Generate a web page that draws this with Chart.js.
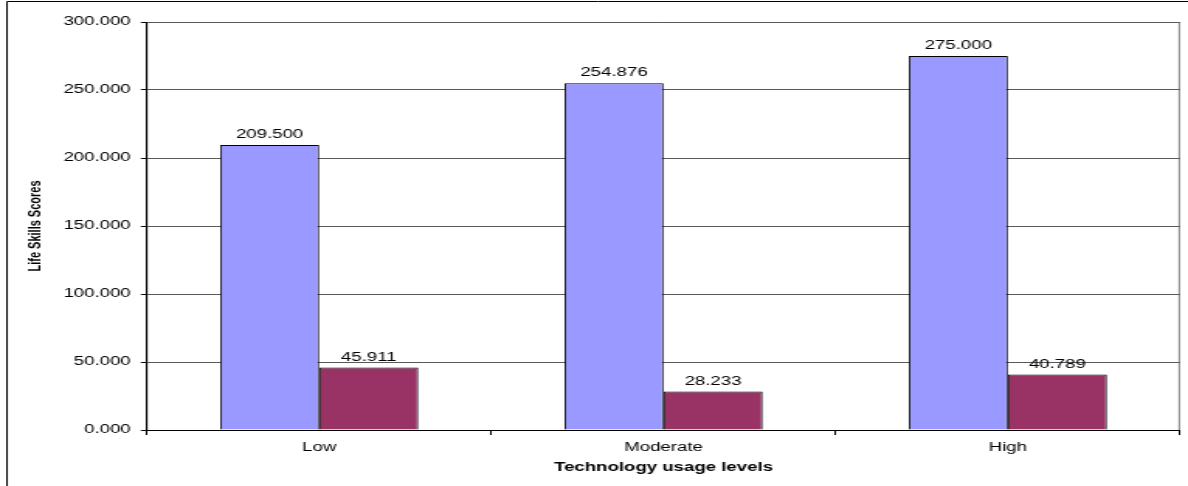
<!DOCTYPE html>
<html>
<head>
<meta charset="utf-8">
<title>Life Skills Scores by Technology usage levels</title>
<script src="https://cdn.jsdelivr.net/npm/chart.js@4.4.1/dist/chart.umd.min.js"></script>
<style>
  html, body { margin: 0; padding: 0; background: #fff; }
  #wrap { width: 1188px; height: 486px; overflow: hidden; }
</style>
</head>
<body>
<div id="wrap">
  <!-- the source picture is stretched sideways, so the canvas is drawn narrow and widened by css -->
  <canvas id="chart" width="766" height="486" style="width:1188px;height:486px;display:block"></canvas>
</div>
<script>
const levels = ["Low", "Moderate", "High"];
const meanScores = [209.500, 254.876, 275.000];
const sdScores = [45.911, 28.233, 40.789];
const yTicks = [0, 50, 100, 150, 200, 250, 300];

const FONT = '"Liberation Sans", Arial, sans-serif';
const SX = 1188 / 766; // horizontal stretch of the canvas
const plotLeft = 147 / SX;
const plotRight = 1180 / SX;

// white background, gray plot frame and the outer chart border
const frame = {
    id: "frame",
    beforeDraw(chart) {
        const ctx = chart.ctx;
        const a = chart.chartArea;
        ctx.save();
        ctx.fillStyle = "#fff";
        ctx.fillRect(0, 0, chart.width, chart.height);
        ctx.strokeStyle = "#808080";
        ctx.lineWidth = 1;
        ctx.strokeRect(a.left, a.top + 0.5, a.right - a.left - 0.5, a.bottom - a.top);
        ctx.strokeStyle = "#000";
        ctx.beginPath();
        ctx.moveTo(4.5, chart.height);
        ctx.lineTo(4.5, 1.5);
        ctx.lineTo(chart.width, 1.5);
        ctx.stroke();
        ctx.restore();
    }
};

// value printed over every bar
const valueLabels = {
    id: "valueLabels",
    afterDatasetsDraw(chart) {
        const ctx = chart.ctx;
        ctx.save();
        ctx.font = "12px " + FONT;
        ctx.fillStyle = "#000";
        ctx.textAlign = "center";
        ctx.textBaseline = "alphabetic";
        chart.data.datasets.forEach((ds, i) => {
            chart.getDatasetMeta(i).data.forEach((bar, j) => {
                ctx.fillText(ds.data[j].toFixed(3), bar.x, bar.y - 7);
            });
        });
        ctx.restore();
    }
};

const ctx = document.getElementById("chart").getContext("2d");

new Chart(ctx, {
    type: "bar",
    data: {
        labels: levels,
        datasets: [
            {
                label: "Mean",
                data: meanScores,
                backgroundColor: "#9999FF",
                borderColor: "#000",
                borderWidth: 1
            },
            {
                label: "SD",
                data: sdScores,
                backgroundColor: "#993366",
                borderColor: "#000",
                borderWidth: 1
            }
        ]
    },
    options: {
        responsive: false,
        animation: false,
        devicePixelRatio: 1,
        categoryPercentage: 198 / 344,
        barPercentage: 1,
        layout: {
            padding: { left: 14, right: 766 - plotRight, top: 22, bottom: 0 }
        },
        plugins: {
            legend: { display: false },
            tooltip: { enabled: false }
        },
        scales: {
            x: {
                afterFit: (scale) => { scale.height = 486 - 430; },
                grid: {
                    drawOnChartArea: false,
                    drawTicks: true,
                    tickLength: 5,
                    tickColor: "#000"
                },
                border: { color: "#000", width: 1 },
                ticks: {
                    color: "#000",
                    padding: 5,
                    font: { family: FONT, size: 12 }
                },
                title: {
                    display: true,
                    text: "Technology usage levels",
                    color: "#000",
                    padding: { top: 0, bottom: 11 },
                    font: { family: FONT, size: 12, weight: "bold" }
                }
            },
            y: {
                min: 0,
                max: 300,
                afterFit: (scale) => { scale.width = plotLeft - 14; },
                afterBuildTicks: (scale) => { scale.ticks = yTicks.map((v) => ({ value: v })); },
                grid: {
                    color: "#595959",
                    tickColor: "#000",
                    tickLength: 4
                },
                border: { color: "#000", width: 1 },
                ticks: {
                    color: "#000",
                    padding: 6.5,
                    font: { family: FONT, size: 12 },
                    callback: (v) => Number(v).toFixed(3)
                },
                title: {
                    display: true,
                    text: "Life Skills Scores",
                    color: "#000",
                    padding: { top: 2, bottom: 0 },
                    font: { family: FONT, size: 11, weight: "bold" }
                }
            }
        }
    },
    plugins: [frame, valueLabels]
});
</script>
</body>
</html>
